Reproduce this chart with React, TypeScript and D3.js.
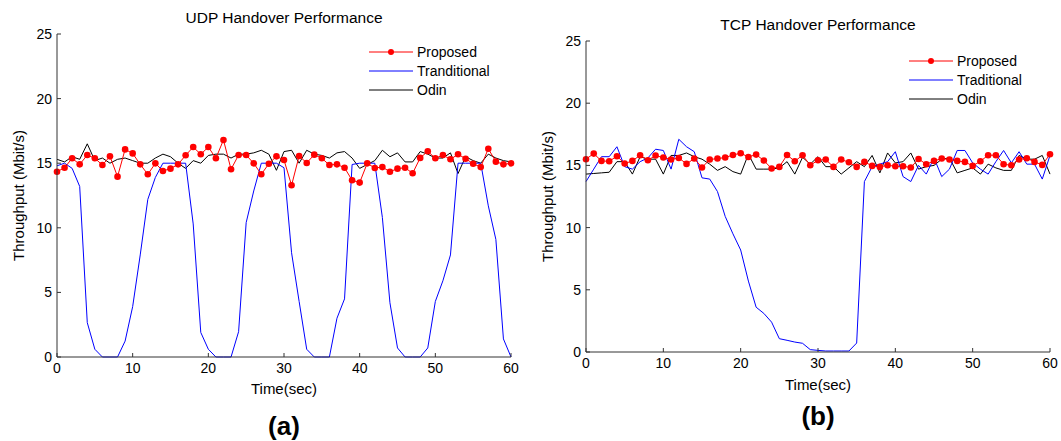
import React from "react";
import * as d3 from "d3";

const timeSec: number[] = d3.range(0, 61);
const xTicks: number[] = [0, 10, 20, 30, 40, 50, 60];
const yTicks: number[] = [0, 5, 10, 15, 20, 25];
const seriesNames: string[] = ["Proposed", "Tranditional", "Odin"];
const seriesNamesTcp: string[] = ["Proposed", "Traditional", "Odin"];

const udpProposed: number[] = [
  14.34, 14.65, 15.38, 14.91, 15.63, 15.38, 14.86, 15.53, 13.96, 16.07,
  15.76, 14.91, 14.14, 14.99, 14.4, 14.58, 14.91, 15.61, 16.25, 15.69,
  16.25, 15.38, 16.8, 14.53, 15.63, 15.63, 14.99, 14.14, 14.96, 15.53,
  15.25, 13.29, 15.56, 15.02, 15.66, 15.38, 14.86, 14.91, 14.65, 13.68,
  13.5, 14.99, 14.63, 14.7, 14.34, 14.58, 14.65, 14.22, 15.41, 15.92,
  15.38, 15.63, 15.3, 15.69, 15.35, 14.96, 14.7, 16.12, 15.12, 14.91, 14.99,
];
const udpTraditional: number[] = [
  14.8, 15.0, 14.6, 13.2, 2.66, 0.6, 0, 0, 0, 1.23,
  3.9, 7.9, 12.2, 13.9, 15, 15, 15, 15, 10.3, 1.9,
  0.6, 0, 0, 0, 1.96, 10.4, 12.85, 15, 15, 15,
  14.65, 8.07, 4.3, 0.6, 0, 0, 0, 3.0, 4.5, 14.9,
  15, 15, 15, 10.8, 4.2, 0.7, 0, 0, 0, 0.7,
  4.3, 5.9, 7.9, 15, 15, 15, 15, 11.7, 9.1, 1.4, 0,
];
const udpOdin: number[] = [
  15.3, 15.1, 15.5, 15.3, 16.5, 15.2, 15.4, 15.0, 15.3, 15.4,
  15.2, 15.0, 15.0, 15.4, 15.7, 15.5, 15.0, 14.6, 15.2, 15.0,
  15.6, 15.7, 15.7, 15.4, 15.7, 15.7, 15.8, 16.0, 15.7, 14.45,
  15.9, 16.0, 15.0, 16.0, 15.7, 15.6, 15.4, 15.8, 15.9, 15.4,
  14.6, 14.9, 15.2, 16.0, 15.5, 15.8, 15.1, 15.1, 15.9, 15.7,
  15.4, 15.4, 15.8, 14.2, 15.5, 15.2, 15.0, 15.7, 15.4, 15.2, 15.1,
];

const tcpProposed: number[] = [
  15.5, 15.95, 15.36, 15.33, 15.74, 15.15, 15.36, 15.82, 15.42, 15.79,
  15.63, 15.47, 15.6, 15.12, 15.55, 14.83, 15.47, 15.55, 15.63, 15.84,
  15.98, 15.68, 15.87, 15.39, 14.75, 14.88, 15.84, 15.33, 15.82, 15.01,
  15.42, 15.47, 14.88, 15.47, 15.25, 14.88, 15.28, 14.96, 14.88, 15.01,
  14.93, 14.93, 14.83, 15.52, 15.09, 15.36, 15.55, 15.47, 15.36, 15.28,
  14.96, 15.33, 15.82, 15.82, 15.09, 15.01, 15.47, 15.58, 15.28, 15.04, 15.9,
];
const tcpTraditional: number[] = [
  13.7, 14.7, 15.7, 15.7, 16.5, 14.9, 14.7, 15.3, 15.6, 16.3,
  16.2, 14.7, 17.1, 16.5, 16.1, 14.0, 13.9, 12.9, 10.9, 9.5,
  8.2, 5.7, 3.6, 3.1, 2.4, 1.07, 0.94, 0.8, 0.7, 0.19,
  0.13, 0.08, 0.08, 0.08, 0.08, 0.72, 13.7, 14.9, 15.1, 15.3,
  16.1, 14.1, 13.7, 15.0, 14.3, 15.6, 14.1, 14.7, 16.2, 16.2,
  15.2, 14.7, 14.3, 15.3, 16.2, 15.2, 16.1, 15.1, 15.1, 13.9, 15.8,
];
const tcpOdin: number[] = [
  14.3, 14.35, 14.4, 14.45, 15.3, 15.3, 14.3, 15.7, 15.5, 15.5,
  14.3, 15.8, 15.8, 16.0, 15.7, 15.5, 15.1, 14.6, 14.9, 14.5,
  14.3, 15.9, 14.7, 14.7, 14.7, 14.8, 15.3, 14.3, 15.65, 15.1,
  15.7, 14.9, 14.9, 14.3, 14.8, 15.3, 14.9, 15.8, 14.4, 16.0,
  15.2, 15.3, 16.0, 14.7, 14.9, 15.0, 15.5, 15.6, 14.4, 14.6,
  14.8, 14.3, 15.1, 14.8, 14.6, 14.6, 15.8, 15.5, 15.5, 15.8, 14.3,
];

const FONT = "'Liberation Sans', Arial, sans-serif";
const FS = 14;
const FS_LABEL = 15;
const FS_TITLE = 15.5;

type PanelProps = {
  title: string;
  tag: string;
  names: string[];
  proposed: number[];
  traditional: number[];
  odin: number[];
  x0: number;
  x1: number;
  yTop: number;
  yBot: number;
  titleY: number;
  tagY: number;
  xLabelY: number;
  yLabelX: number;
  legX: number;
  legY: number;
  legDy: number;
};

function Panel(p: PanelProps) {
  const x = d3.scaleLinear().domain([0, 60]).range([p.x0, p.x1]);
  const y = d3.scaleLinear().domain([0, 25]).range([p.yBot, p.yTop]);
  const line = d3
    .line<number>()
    .x((_, i) => x(timeSec[i]))
    .y((d) => y(d));
  const cx = (p.x0 + p.x1) / 2;
  const tickLen = 4;
  const legItems = [
    { name: p.names[0], color: "#ff0000", marker: true },
    { name: p.names[1], color: "#0000ff", marker: false },
    { name: p.names[2], color: "#000000", marker: false },
  ];
  return (
    <g>
      <text x={cx} y={p.titleY} textAnchor="middle" fontSize={FS_TITLE} fontFamily={FONT} fill="#000">
        {p.title}
      </text>
      <path d={line(p.odin) || ""} fill="none" stroke="#000" strokeWidth={1} />
      <path d={line(p.traditional) || ""} fill="none" stroke="#0000ff" strokeWidth={1} />
      <path d={line(p.proposed) || ""} fill="none" stroke="#ff0000" strokeWidth={1} />
      {p.proposed.map((v, i) => (
        <circle key={i} cx={x(timeSec[i])} cy={y(v)} r={3.3} fill="#ff0000" />
      ))}
      <line x1={p.x0} x2={p.x1} y1={p.yBot} y2={p.yBot} stroke="#333" strokeWidth={1} />
      <line x1={p.x0} x2={p.x0} y1={p.yTop} y2={p.yBot} stroke="#333" strokeWidth={1} />
      {xTicks.map((t) => (
        <g key={"x" + t}>
          <line x1={x(t)} x2={x(t)} y1={p.yBot} y2={p.yBot - tickLen} stroke="#333" strokeWidth={1} />
          <text x={x(t)} y={p.yBot + 16} textAnchor="middle" fontSize={FS} fontFamily={FONT} fill="#000">
            {t}
          </text>
        </g>
      ))}
      {yTicks.map((t) => (
        <g key={"y" + t}>
          <line x1={p.x0} x2={p.x0 + tickLen} y1={y(t)} y2={y(t)} stroke="#333" strokeWidth={1} />
          <text x={p.x0 - 5} y={y(t) + 5} textAnchor="end" fontSize={FS} fontFamily={FONT} fill="#000">
            {t}
          </text>
        </g>
      ))}
      <text x={cx} y={p.xLabelY} textAnchor="middle" fontSize={FS_LABEL} fontFamily={FONT} fill="#000">
        Time(sec)
      </text>
      <text
        transform={`translate(${p.yLabelX},${(p.yTop + p.yBot) / 2}) rotate(-90)`}
        textAnchor="middle"
        fontSize={FS_LABEL}
        fontFamily={FONT}
        fill="#000"
      >
        Throughput (Mbit/s)
      </text>
      <text x={cx} y={p.tagY} textAnchor="middle" fontSize={26} fontWeight="bold" fontFamily={FONT} fill="#000">
        {p.tag}
      </text>
      {legItems.map((it, i) => {
        const ly = p.legY + i * p.legDy;
        return (
          <g key={it.name}>
            <line x1={p.legX} x2={p.legX + 44} y1={ly} y2={ly} stroke={it.color} strokeWidth={1} />
            {it.marker && <circle cx={p.legX + 22} cy={ly} r={3} fill={it.color} />}
            <text x={p.legX + 48} y={ly + 5} fontSize={FS} fontFamily={FONT} fill="#000">
              {it.name}
            </text>
          </g>
        );
      })}
    </g>
  );
}

export default function App() {
  return (
    <svg width={1061} height={441} style={{ position: "absolute", left: 0, top: 0, background: "#fff" }}>
      <rect x={0} y={0} width={1061} height={441} fill="#fff" />
      <Panel
        title="UDP Handover Performance"
        tag="(a)"
        names={seriesNames}
        proposed={udpProposed}
        traditional={udpTraditional}
        odin={udpOdin}
        x0={57}
        x1={511}
        yTop={34}
        yBot={357}
        titleY={23}
        tagY={435}
        xLabelY={394}
        yLabelX={24}
        legX={369}
        legY={52}
        legDy={19}
      />
      <Panel
        title="TCP Handover Performance"
        tag="(b)"
        names={seriesNamesTcp}
        proposed={tcpProposed}
        traditional={tcpTraditional}
        odin={tcpOdin}
        x0={586}
        x1={1050}
        yTop={41}
        yBot={352}
        titleY={30}
        tagY={425}
        xLabelY={390}
        yLabelX={553}
        legX={909}
        legY={61}
        legDy={19}
      />
    </svg>
  );
}
